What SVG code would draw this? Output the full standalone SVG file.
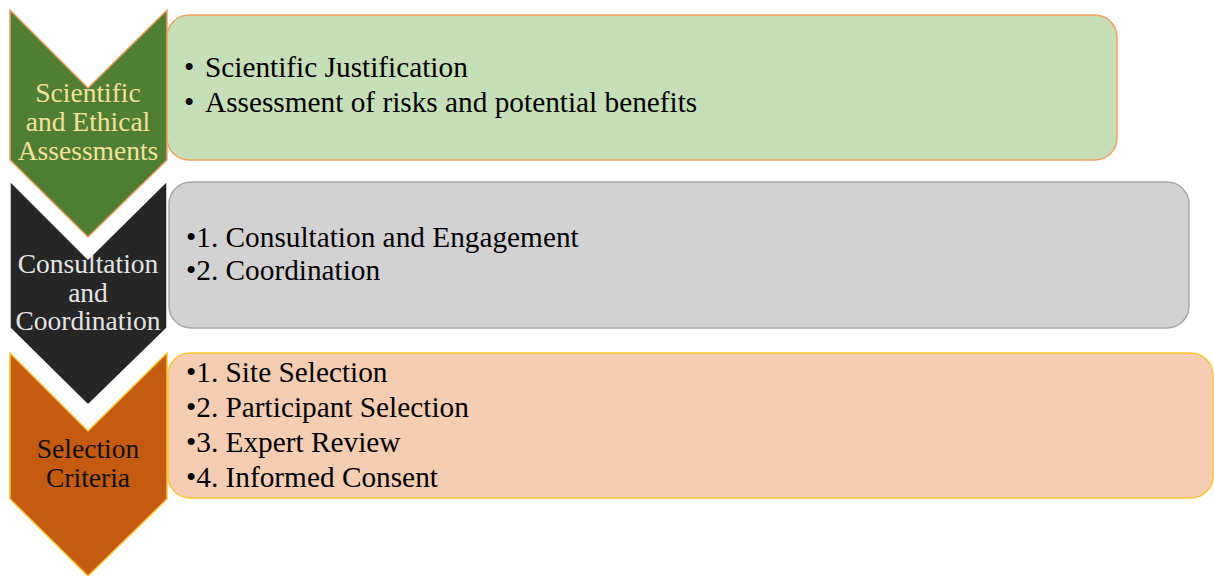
<svg xmlns="http://www.w3.org/2000/svg" width="1214" height="576" viewBox="0 0 1214 576">
  <style>
    text { font-family: "Liberation Serif", "Times New Roman", Times, "DejaVu Serif", serif; }
    .lbl { font-size: 27.5px; text-anchor: middle; }
    .item { font-size: 29.3px; fill: #000; }
    .box { stroke-width: 1.5; }
    .chev { stroke-width: 1.5; }
  </style>
  <rect width="1214" height="576" fill="#ffffff"/>

  <!-- Step 1 -->
  <g id="step1">
    <rect class="box" x="167" y="15" width="950" height="145" rx="22" fill="#C7DFB8" stroke="#F4A263"/>
    <polygon class="chev" points="10,10 88,88 167,10 167,160 88,237 10,160" fill="#507E32" stroke="#F4A263"/>
    <text class="lbl" fill="#F2E29E"><tspan x="88" y="102">Scientific</tspan><tspan x="88" y="131">and Ethical</tspan><tspan x="88" y="160">Assessments</tspan></text>
    <text class="item"><tspan x="184" y="77">•</tspan><tspan x="205" y="77">Scientific Justification</tspan></text>
    <text class="item"><tspan x="184" y="112">•</tspan><tspan x="205" y="112">Assessment of risks and potential benefits</tspan></text>
  </g>

  <!-- Step 2 -->
  <g id="step2">
    <rect class="box" x="169" y="182" width="1020" height="146" rx="22" fill="#D3D2D3" stroke="#A8A8A8"/>
    <polygon class="chev" points="10,181 88,259 167,181 167,328 88,405 10,328" fill="#262626" stroke="#ffffff"/>
    <text class="lbl" fill="#E4E4E4"><tspan x="88" y="273">Consultation</tspan><tspan x="88" y="302">and</tspan><tspan x="88" y="330">Coordination</tspan></text>
    <text class="item"><tspan x="186" y="247">•1. Consultation and Engagement</tspan></text>
    <text class="item"><tspan x="186" y="280">•2. Coordination</tspan></text>
  </g>

  <!-- Step 3 -->
  <g id="step3">
    <rect class="box" x="168" y="353" width="1045" height="145" rx="22" fill="#F5CDB3" stroke="#FBC534"/>
    <polygon class="chev" points="10,353 88,431 167,353 167,499 88,576 10,499" fill="#C55A11" stroke="#FBC534"/>
    <text class="lbl" fill="#111111"><tspan x="88" y="458">Selection</tspan><tspan x="88" y="487">Criteria</tspan></text>
    <text class="item"><tspan x="186" y="382">•1. Site Selection</tspan></text>
    <text class="item"><tspan x="186" y="417">•2. Participant Selection</tspan></text>
    <text class="item"><tspan x="186" y="452">•3. Expert Review</tspan></text>
    <text class="item"><tspan x="186" y="487">•4. Informed Consent</tspan></text>
  </g>

  <!-- No connectors: the chevrons themselves carry the flow -->
  <g id="connectors"/>
</svg>
